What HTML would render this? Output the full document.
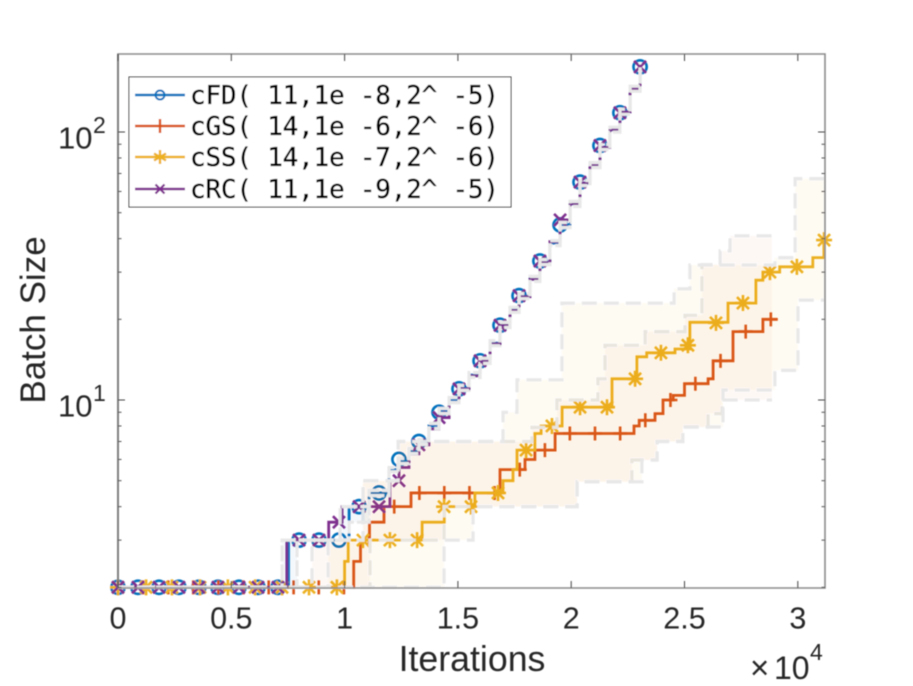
<!DOCTYPE html>
<html lang="en">
<head>
<meta charset="utf-8">
<title>Batch Size vs Iterations</title>
<style>
html,body{margin:0;padding:0;background:#fff;}
svg{display:block;}
text{font-family:"Liberation Sans",sans-serif;fill:#262626;}
.mono{font-family:"DejaVu Sans Mono","Liberation Mono",monospace;fill:#000;font-size:26px;stroke:#000;stroke-width:0.35px;}
</style>
</head>
<body>
<svg id="chart" width="913" height="686" viewBox="0 0 913 686" xmlns="http://www.w3.org/2000/svg">
  <defs><filter id="soft" x="-5%" y="-5%" width="110%" height="110%"><feGaussianBlur stdDeviation="0.45"/></filter></defs>
  <g id="root" filter="url(#soft)">
    <g id="plot"></g>
    <g id="axes"></g>
    <text x="472" y="671" font-size="35.7" text-anchor="middle">Iterations</text>
    <text x="0" y="0" font-size="35" text-anchor="middle" transform="translate(45 320) rotate(-90)">Batch Size</text>
    <g>
      <text x="750" y="679" font-size="33">×</text>
      <text x="774" y="679" font-size="32">10</text>
      <text x="810" y="660" font-size="23">4</text>
    </g>
    <g id="legend">
      <rect x="129" y="77" width="382" height="130" fill="#fff" stroke="#333" stroke-width="1"/>
      <g>
        <line x1="135" x2="185" y1="95" y2="95" stroke="#0072BD" stroke-width="2.6"/>
        <circle cx="160" cy="95" r="4.5" fill="none" stroke="#0072BD" stroke-width="2"/>
        <text class="mono" x="190" y="104" textLength="309">cFD( 11,1e -8,2^ -5)</text>
      </g>
      <g>
        <line x1="135" x2="185" y1="126" y2="126" stroke="#D95319" stroke-width="2.6"/>
        <path d="M160 119V133" stroke="#D95319" stroke-width="2.4" fill="none"/>
        <text class="mono" x="190" y="135" textLength="309">cGS( 14,1e -6,2^ -6)</text>
      </g>
      <g>
        <line x1="135" x2="185" y1="157" y2="157" stroke="#EDB120" stroke-width="2.6"/>
        <path d="M160 150V164M154 153.500L166 160.500M154 160.500L166 153.500" stroke="#EDB120" stroke-width="2.4" fill="none"/>
        <text class="mono" x="190" y="166" textLength="309">cSS( 14,1e -7,2^ -6)</text>
      </g>
      <g>
        <line x1="135" x2="185" y1="189" y2="189" stroke="#7E2F8E" stroke-width="2.6"/>
        <path d="M155.500 184.500L164.500 193.500M155.500 193.500L164.500 184.500" stroke="#7E2F8E" stroke-width="2.2" fill="none"/>
        <text class="mono" x="190" y="198" textLength="309">cRC( 11,1e -9,2^ -5)</text>
      </g>
    </g>
  </g>
</svg>
<script>
// ---- tick labels ----
const xTicks = [0, 0.5, 1, 1.5, 2, 2.5, 3];
const xTickLabels = ["0", "0.5", "1", "1.5", "2", "2.5", "3"];
const yMajorTicks = [10, 100];
const yMinorTicks = [2, 3, 4, 5, 6, 7, 8, 9, 20, 30, 40, 50, 60, 70, 80, 90];

// ---- cFD ----
const cfdStepIter = [0,.7525,1.02,1.108,1.196,1.24,1.284,1.328,1.372,1.417,1.461,1.505,1.549,1.598,1.642,1.686,1.73,1.77,1.818,1.862,1.906,1.951,1.995,2.039,2.083,2.127,2.171,2.215,2.26,2.304];
const cfdStepBatch = [2,3,4,4.5,5.5,5.92,6.45,6.97,8,9.1,10,11.1,12.4,14,16.3,19.05,21.7,24.4,28.3,32.7,38.5,45,53.9,64.5,75.3,87.9,102,119,145,176];
const cfdIter = [0,.088,.181,.269,.357,.441,.534,.618,.706,.799,.887,.975,1.064,1.152,1.24,1.328,1.417,1.505,1.598,1.686,1.77,1.862,1.951,2.039,2.127,2.215,2.304];
const cfdBatch = [2,2,2,2,2,2,2,2,2,3,3,3,4,4.5,6,7,9,11,14,19,24.5,33,45,65,89,118,175];
// ---- cRC ----
const crcStepIter = [0,.745,.93,.989,1.2,1.24,1.284,1.328,1.372,1.417,1.461,1.505,1.549,1.598,1.642,1.686,1.73,1.77,1.818,1.862,1.906,1.951,1.995,2.039,2.083,2.127,2.171,2.215,2.26,2.304];
const crcStepBatch = [2,3,3.5,4,5,5.6,6.3,6.8,7.8,8.6,9.8,11,12.3,14,16.2,19,21.6,24.3,28.2,32.6,39,47,54,64.5,75.2,87.7,102,119,145,176];
const crcIter = [0,.088,.181,.269,.357,.441,.534,.618,.706,.799,.887,.975,1.064,1.152,1.24,1.328,1.417,1.505,1.598,1.686,1.77,1.862,1.951,2.039,2.127,2.215,2.304];
const crcBatch = [2,2,2,2,2,2,2,2,2,3,3,3.5,4,4,5,6.8,8.6,11,14,19,24.5,33,47,65,89,118,175];
// ---- cGS ----
const cgsStepIter = [0,1.04,1.07,1.11,1.174,1.293,1.686,1.796,1.84,1.929,2.277,2.30,2.37,2.405,2.45,2.50,2.604,2.626,2.714,2.846,2.91];
const cgsStepBatch = [2,2.5,3,3.5,4,4.5,5.5,6,6.5,7.5,8,8.4,8.9,10,10.4,11.5,12,14,18,20,20];
const cgsIter = [0,.111,.222,.332,.443,.554,.665,.775,.886,.997,1.108,1.219,1.33,1.44,1.551,1.662,1.773,1.884,1.994,2.105,2.216,2.327,2.438,2.548,2.659,2.77,2.881];
const cgsBatch = [2,2,2,2,2,2,2,2,2,2,3,4,4.5,4.5,4.5,4.5,5.5,6.5,7.5,7.5,7.5,8.4,10,11.5,14,18,20];
// ---- cSS ----
const cssStepIter = [0,1.0,1.016,1.342,1.44,1.575,1.699,1.743,1.761,1.84,1.867,1.96,2.18,2.29,2.333,2.458,2.524,2.692,2.815,2.846,2.92,3.066,3.115];
const cssStepBatch = [2,2.5,3,3.5,4,4.5,5,5.5,6.5,7.5,8,9.4,12,14.5,15,15.5,19.5,23,28,30,31.4,34,39.5];
const cssIter = [0,.124,.238,.362,.485,.605,.724,.843,.966,1.081,1.2,1.32,1.439,1.558,1.677,1.801,1.915,2.039,2.158,2.282,2.396,2.515,2.639,2.758,2.877,2.996,3.116];
const cssBatch = [2,2,2,2,2,2,2,2,2,3,3,3,4,4,4.5,6.5,8,9.4,9.4,12,15,16,19.4,23,30,31.4,39.5];

// ---- shaded bands ----
const cfdBandIter = [0,.724,.79,.98,1.02,1.108,1.196,1.24,1.284,1.328,1.372,1.417,1.461,1.505,1.549,1.598,1.642,1.686,1.73,1.77,1.818,1.862,1.906,1.951,1.995,2.039,2.083,2.127,2.171,2.215,2.26,2.304];
const cfdBandHigh = [2,3,3,4,4,4.6,5.6,6.05,6.59,7.12,8.18,9.3,10.22,11.34,12.67,14.31,16.66,19.47,22.18,24.94,28.92,33.42,39.35,46,55.1,65.9,76.96,89.8,104.2,121.6,148.2,179.9];
const cfdBandLow = [2,2,3,3,3.5,4.4,5.4,5.79,6.31,6.82,7.83,8.9,9.78,10.86,12.13,13.7,15.95,18.64,21.23,23.87,27.69,32,37.67,44,52.74,63.1,73.68,86,99.8,116.4,141.9,172.2];

const cgsHighIter = [0,.856,1.0,1.081,1.236,1.743,1.827,1.937,2.118,2.149,2.326,2.502,2.577,2.657,2.701,2.886];
const cgsHighBatch = [2,3,3,5,7,7,7.9,10,12,16,18,20.7,32,36,41,42];
const cgsLowIter = [0,1.041,1.112,1.439,2.026,2.268,2.379,2.493,2.604,2.666,2.886];
const cgsLowBatch = [2,2,3,4,4.95,5.97,7,7.93,8.9,10,10];

const cssHighIter = [0,.927,1.081,1.236,1.699,1.761,1.959,2.454,2.524,2.899,2.988,3.12];
const cssHighBatch = [2,3,5,7,9,11.9,23,26,31.9,34,67,67];
const cssLowIter = [0,.927,1.439,1.567,2.026,2.312,2.379,2.493,2.67,2.899,3.001,3.12];
const cssLowBatch = [2,2,3,4,4.95,5.97,7,7.93,10.9,12.9,23.6,23.6];

// ---- axis functions ----
const PLOT = {left:118, right:825, top:54, bottom:588};
function xScale(iter){ return 118 + iter * 226.6; }
function yScale(batch){ return 400 - (Math.log10(batch) - 1) * 268; }

const NS = "http://www.w3.org/2000/svg";
function make(parent, tag, name, attrs){
  const el = document.createElementNS(NS, tag);
  for (const k in attrs) el.setAttribute(k, attrs[k]);
  
  
  parent.appendChild(el);
  return el;
}
function stepAfter(xs, vs){
  let d = "M" + xScale(xs[0]).toFixed(1) + " " + yScale(vs[0]).toFixed(1);
  for (let i = 1; i < xs.length; i++){
    d += "H" + xScale(xs[i]).toFixed(1) + "V" + yScale(vs[i]).toFixed(1);
  }
  return d;
}
function markerPath(kind, cx, cy){
  const r = 7;
  if (kind === "plus") return `M${cx} ${cy-r}V${cy+r}M${cx-r} ${cy}H${cx+r}`;
  if (kind === "cross") return `M${cx-6} ${cy-6}L${cx+6} ${cy+6}M${cx-6} ${cy+6}L${cx+6} ${cy-6}`;
  if (kind === "star") return `M${cx} ${cy-r-1}V${cy+r+1}M${cx-r-1} ${cy}H${cx+r+1}M${cx-6} ${cy-6}L${cx+6} ${cy+6}M${cx-6} ${cy+6}L${cx+6} ${cy-6}`;
  return "";
}

const plot = document.getElementById("plot");
const axes = document.getElementById("axes");

function drawSeries(key, color, lineD, xs, vs, kind){
  const g = make(plot, "g", "series-" + key, {});
  make(g, "path", "line-" + key, {d: lineD, fill: "none", stroke: color, "stroke-width": 2.8});
  xs.forEach(function(x, i){
    const cx = xScale(x), cy = yScale(vs[i]);
    if (kind === "circle"){
      make(g, "circle", "marker-" + key, {cx: cx, cy: cy, r: 6.6, fill: "none", stroke: color, "stroke-width": 2.6});
    } else {
      make(g, "path", "marker-" + key, {d: markerPath(kind, cx, cy), fill: "none", stroke: color, "stroke-width": 2.6});
    }
  });
}
function drawBand(key, fill, hx, hv, lx, lv, dash){
  const g = make(plot, "g", "band-" + key, {});
  const hi = stepAfter(hx, hv);
  const lo = stepAfter(lx, lv);
  let rev = "";
  for (let i = lx.length - 1; i >= 0; i--){
    rev += "V" + yScale(lv[i]).toFixed(1) + "H" + xScale(lx[i]).toFixed(1);
  }
  make(g, "path", "band-fill-" + key, {d: hi + "H" + xScale(lx[lx.length-1]).toFixed(1) + rev + "Z", fill: fill, stroke: "none"});
  make(g, "path", "band-upper-" + key, {d: hi, fill: "none", stroke: "#e8e8e8", "stroke-width": 3.2, "stroke-dasharray": dash});
  make(g, "path", "band-lower-" + key, {d: lo, fill: "none", stroke: "#e8e8e8", "stroke-width": 3.2, "stroke-dasharray": dash});
}

drawSeries("cfd", "#0072BD", stepAfter(cfdStepIter, cfdStepBatch), cfdIter, cfdBatch, "circle");
drawSeries("cgs", "#D95319", stepAfter(cgsStepIter, cgsStepBatch), cgsIter, cgsBatch, "plus");
drawSeries("css", "#EDB120", stepAfter(cssStepIter, cssStepBatch), cssIter, cssBatch, "star");
drawSeries("crc", "#7E2F8E", stepAfter(crcStepIter, crcStepBatch), crcIter, crcBatch, "cross");

drawBand("cgs", "rgba(217,83,25,0.04)", cgsHighIter, cgsHighBatch, cgsLowIter, cgsLowBatch, "15 7");
drawBand("css", "rgba(237,177,32,0.05)", cssHighIter, cssHighBatch, cssLowIter, cssLowBatch, "15 7");
drawBand("cfd", "rgba(0,114,189,0.05)", cfdBandIter, cfdBandHigh, cfdBandIter, cfdBandLow, "16 3");

// axes frame
make(axes, "path", "axes-frame", {
  d: `M${PLOT.left} ${PLOT.bottom}V${PLOT.top}H${PLOT.right}V${PLOT.bottom}H${PLOT.left}`,
  fill: "none", stroke: "#8c8c8c", "stroke-width": 1.6
});
make(axes, "line", "y-axis-line", {x1: PLOT.left, x2: PLOT.left, y1: PLOT.top, y2: PLOT.bottom, stroke: "#808080", "stroke-width": 2});

xTicks.forEach(function(t, i){
  const px = xScale(t);
  make(axes, "line", "x-tick-bottom", {x1: px, x2: px, y1: PLOT.bottom, y2: PLOT.bottom - 7, stroke: "#444", "stroke-width": 1});
  make(axes, "line", "x-tick-top", {x1: px, x2: px, y1: PLOT.top, y2: PLOT.top + 7, stroke: "#444", "stroke-width": 1});
  const lab = make(axes, "text", "x-tick-label", {x: px, y: 628.5, "font-size": 30.5, "text-anchor": "middle"});
  lab.textContent = xTickLabels[i];
});
yMajorTicks.forEach(function(t){
  const py = yScale(t);
  make(axes, "line", "y-tick-left", {x1: PLOT.left, x2: PLOT.left + 7, y1: py, y2: py, stroke: "#444", "stroke-width": 1});
  make(axes, "line", "y-tick-right", {x1: PLOT.right, x2: PLOT.right - 7, y1: py, y2: py, stroke: "#444", "stroke-width": 1});
  const lab = make(axes, "text", "y-tick-label", {x: 58, y: py + 16.5, "font-size": 31});
  lab.textContent = "10";
  const sup = make(axes, "text", "y-tick-exponent", {x: 93, y: py + 1, "font-size": 23});
  sup.textContent = String(Math.round(Math.log10(t)));
});
yMinorTicks.forEach(function(t){
  const py = yScale(t);
  make(axes, "line", "y-minor-tick-left", {x1: PLOT.left, x2: PLOT.left + 3.5, y1: py, y2: py, stroke: "#555", "stroke-width": 1});
  make(axes, "line", "y-minor-tick-right", {x1: PLOT.right, x2: PLOT.right - 3.5, y1: py, y2: py, stroke: "#555", "stroke-width": 1});
});
</script>
</body>
</html>
